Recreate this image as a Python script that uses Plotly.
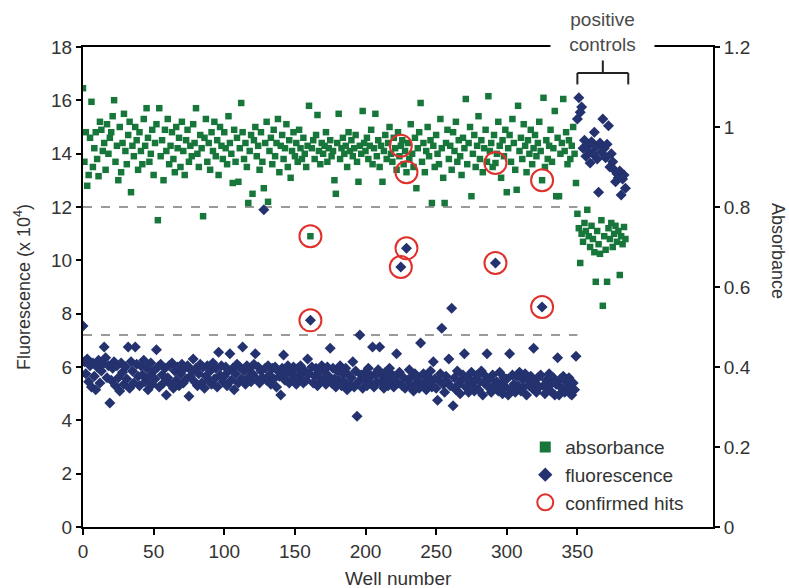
import plotly.graph_objects as go

# ---------------- data ----------------
# absorbance (A.U.) for screening wells 0..349
absorbance = [
    1.097, 0.913, 0.987, 0.853, 0.880, 0.973, 1.063, 0.900, 0.947, 0.987,
    0.920, 0.877, 1.013, 0.993, 0.940, 0.960, 0.893, 1.007, 0.933, 0.973,
    0.987, 1.027, 1.067, 0.913, 0.953, 0.867, 1.000, 0.887, 0.960, 1.033,
    0.940, 0.907, 0.980, 1.013, 0.837, 0.953, 0.927, 1.000, 0.967, 0.893,
    0.987, 0.940, 0.907, 1.020, 0.953, 1.047, 0.973, 0.913, 0.933, 0.993,
    0.880, 0.960, 1.007, 0.767, 1.047, 0.927, 0.967, 0.867, 0.993, 0.940,
    1.020, 0.907, 0.953, 0.987, 0.920, 0.887, 1.000, 0.947, 0.973, 0.900,
    1.013, 0.940, 0.880, 0.967, 0.993, 0.913, 0.953, 0.927, 1.007, 0.960,
    1.047, 0.933, 0.900, 0.980, 0.947, 0.777, 0.973, 1.020, 0.913, 0.960,
    0.893, 0.987, 0.940, 1.013, 0.927, 0.967, 0.880, 1.000, 0.953, 0.920,
    0.987, 0.947, 0.907, 1.027, 0.960, 0.933, 0.860, 0.993, 0.913, 0.973,
    0.863, 0.947, 1.060, 0.987, 0.920, 0.960, 0.900, 0.810, 0.940, 0.980,
    0.833, 0.967, 1.000, 0.927, 0.953, 0.893, 0.987, 0.913, 0.847, 0.960,
    1.013, 0.813, 0.940, 0.973, 0.907, 0.993, 0.927, 0.960, 1.020, 0.887,
    0.953, 0.980, 0.920, 0.947, 1.007, 0.900, 0.967, 0.873, 0.940, 0.987,
    0.927, 0.960, 0.913, 0.993, 0.947, 0.920, 0.973, 0.933, 0.900, 0.953,
    1.053, 0.727, 0.947, 0.967, 0.920, 0.980, 1.030, 0.940, 0.907, 0.960,
    0.933, 0.953, 0.987, 0.913, 0.947, 0.967, 0.927, 0.940, 0.867, 0.833,
    0.960, 1.033, 0.920, 0.947, 0.973, 0.933, 0.953, 0.900, 0.987, 0.940,
    0.967, 0.927, 0.947, 0.980, 0.913, 0.863, 0.953, 0.933, 1.040, 0.960,
    0.940, 0.973, 0.920, 0.953, 0.993, 0.907, 0.947, 1.033, 0.927, 0.967,
    0.900, 0.953, 0.863, 0.940, 0.980, 0.920, 0.960, 1.000, 0.933, 0.913,
    0.973, 0.947, 0.893, 0.987, 0.927, 0.953, 0.967, 0.907, 0.940, 0.887,
    0.960, 0.920, 1.007, 0.933, 0.900, 0.973, 0.847, 0.947, 0.987, 1.060,
    0.913, 0.960, 0.887, 0.940, 1.000, 0.927, 0.967, 0.810, 0.953, 0.900,
    0.980, 0.933, 0.907, 1.020, 0.947, 0.873, 0.810, 0.960, 0.993, 0.920,
    0.953, 0.893, 0.987, 0.940, 1.013, 0.913, 0.967, 0.927, 0.880, 0.973,
    0.947, 1.070, 0.907, 0.960, 1.000, 0.827, 0.933, 0.980, 0.900, 0.953,
    1.027, 0.920, 0.967, 0.887, 0.947, 0.993, 0.913, 1.077, 0.940, 0.960,
    0.900, 0.980, 0.910, 0.933, 1.013, 0.953, 0.873, 0.967, 0.927, 0.993,
    0.837, 0.947, 0.980, 0.913, 1.020, 0.960, 0.893, 0.843, 1.053, 0.940,
    0.973, 0.920, 1.007, 0.953, 0.887, 0.967, 0.933, 0.993, 0.907, 0.947,
    0.980, 0.927, 0.960, 1.013, 0.940, 0.867, 1.073, 0.900, 0.967, 0.920,
    0.953, 0.993, 0.913, 0.947, 1.040, 0.827, 0.973, 0.827, 0.933, 0.960,
    1.070, 0.940, 0.987, 0.907, 0.967, 0.920, 0.953, 1.000, 0.933, 0.860,
]

# fluorescence (x 10^4) for screening wells 0..349
fluorescence = [
    7.54, 6.20, 5.75, 6.30, 5.45, 6.05, 5.25, 6.15, 5.65, 5.15,
    6.00, 6.25, 5.40, 5.85, 6.10, 6.75, 6.35, 5.60, 6.05, 4.65,
    5.50, 5.95, 6.20, 5.30, 6.05, 5.60, 5.10, 6.15, 5.80, 5.35,
    6.00, 5.55, 6.75, 5.20, 6.20, 5.85, 5.40, 6.75, 6.10, 5.65,
    5.30, 6.05, 5.70, 6.25, 5.45, 5.95, 5.15, 5.65, 6.15, 5.35,
    5.85, 5.55, 6.65, 6.00, 5.25, 6.10, 5.70, 5.40, 5.95, 4.95,
    5.60, 6.05, 5.35, 6.15, 5.20, 5.85, 5.50, 6.00, 5.30, 5.75,
    6.10, 5.40, 5.95, 5.55, 6.05, 4.90, 5.65, 5.85, 6.30, 5.45,
    5.95, 5.30, 5.75, 6.10, 5.40, 6.00, 5.20, 5.65, 6.05, 5.50,
    5.85, 5.35, 6.15, 5.55, 5.95, 5.25, 6.55, 5.70, 6.05, 5.45,
    5.65, 6.00, 5.30, 5.85, 6.50, 5.50, 5.95, 5.15, 5.75, 6.10,
    5.40, 6.00, 5.55, 6.75, 5.85, 5.35, 6.05, 5.60, 5.95, 5.45,
    5.75, 6.10, 6.50, 5.55, 6.00, 5.40, 5.85, 5.60, 11.90, 5.95,
    5.50, 6.05, 5.70, 5.35, 5.95, 5.55, 6.00, 5.25, 5.85, 5.65,
    4.95, 5.95, 6.45, 5.50, 5.75, 6.05, 5.40, 5.85, 5.55, 6.00,
    5.65, 5.35, 5.95, 5.55, 6.05, 5.75, 5.40, 5.85, 5.50, 6.30,
    5.75, 7.75, 6.00, 5.40, 5.65, 5.95, 5.30, 5.85, 5.55, 6.05,
    5.50, 5.80, 5.35, 6.00, 5.65, 6.70, 5.40, 5.95, 5.55, 5.25,
    5.85, 5.50, 6.05, 5.30, 5.75, 5.45, 5.95, 5.15, 5.70, 5.35,
    5.60, 6.20, 5.25, 5.85, 4.15, 5.45, 7.20, 5.70, 5.20, 5.55,
    5.80, 5.30, 5.95, 5.40, 5.65, 6.75, 5.25, 5.75, 5.45, 5.90,
    6.75, 5.40, 5.65, 5.20, 5.80, 5.55, 5.30, 5.95, 5.45, 5.70,
    5.25, 5.65, 6.50, 5.40, 5.80, 9.75, 5.30, 5.60, 5.20, 10.45,
    5.50, 5.90, 5.25, 5.65, 5.10, 5.75, 5.40, 5.60, 5.20, 6.90,
    5.35, 5.75, 5.45, 5.15, 5.65, 5.40, 5.85, 5.25, 6.20, 5.55,
    5.20, 4.75, 5.50, 5.75, 7.45, 5.35, 5.05, 5.65, 5.45, 6.30,
    5.30, 8.20, 4.55, 5.60, 5.15, 5.85, 5.35, 5.00, 5.50, 5.70,
    6.50, 5.25, 5.60, 5.05, 5.45, 5.80, 5.30, 5.10, 5.55, 5.70,
    5.15, 5.45, 5.85, 4.95, 5.40, 5.65, 6.50, 5.25, 5.55, 5.05,
    5.70, 5.30, 9.90, 5.45, 5.10, 5.80, 5.35, 5.00, 5.60, 5.25,
    5.55, 4.95, 6.50, 5.15, 5.70, 5.35, 5.05, 5.65, 5.30, 5.80,
    5.10, 5.55, 5.25, 5.75, 4.95, 5.50, 5.30, 5.65, 5.20, 6.70,
    5.40, 5.05, 5.60, 5.25, 5.70, 8.25, 5.30, 5.00, 5.50, 5.20,
    5.75, 5.10, 5.40, 5.60, 4.95, 5.35, 6.35, 4.95, 5.55, 5.20,
    5.65, 5.05, 5.45, 5.25, 5.60, 5.00, 4.95, 5.40, 5.15, 6.40,
]

# positive control wells 350..384
control_absorbance = [
    0.783, 0.747, 0.660, 0.733, 0.713, 0.760, 0.740, 0.793, 0.727, 0.700,
    0.753, 0.720, 0.687, 0.613, 0.740, 0.707, 0.683, 0.767, 0.553, 0.727,
    0.693, 0.613, 0.747, 0.720, 0.760, 0.700, 0.733, 0.753, 0.713, 0.740,
    0.630, 0.727, 0.707, 0.750, 0.720,
]
control_fluorescence = [
    15.30, 16.10, 15.55, 15.75, 14.20, 14.50, 13.90, 14.30, 14.10, 13.65,
    14.45, 14.00, 14.80, 14.25, 13.80, 12.55, 14.40, 14.05, 15.30, 14.20,
    13.85, 14.35, 15.05, 13.50, 14.00, 13.70, 13.40, 12.95, 13.25, 13.10,
    13.35, 12.45, 13.05, 13.20, 12.70,
]

# confirmed hit wells
hit_wells = [161, 225, 229, 292, 325]

# thresholds
absorbance_threshold = 0.8
fluorescence_threshold = 7.2

x_ticks = [0, 50, 100, 150, 200, 250, 300, 350]
y_ticks = [0, 2, 4, 6, 8, 10, 12, 14, 16, 18]
y2_ticks = [0, 0.2, 0.4, 0.6, 0.8, 1.0, 1.2]

# ---------------- derived ----------------
n_screen = len(absorbance)
screen_wells = list(range(n_screen))
control_wells = list(range(n_screen, n_screen + len(control_absorbance)))
all_wells = screen_wells + control_wells
all_abs = absorbance + control_absorbance
all_fluo = fluorescence + control_fluorescence

GREEN = "#17773b"
NAVY = "#24336f"
RED = "#e0302c"
TXT = "#333333"
FONT = "Liberation Sans, Arial, sans-serif"
FS = 19

fig = go.Figure()

fig.add_trace(go.Scatter(
    x=all_wells, y=all_abs, yaxis="y2", mode="markers",
    marker=dict(symbol="square", size=6.5, color=GREEN, line=dict(width=0)),
    showlegend=False, hoverinfo="skip"))

fig.add_trace(go.Scatter(
    x=all_wells, y=all_fluo, mode="markers",
    marker=dict(symbol="diamond", size=8.5, color=NAVY, line=dict(width=0)),
    showlegend=False, hoverinfo="skip"))

fig.add_trace(go.Scatter(
    x=hit_wells, y=[absorbance[w] for w in hit_wells], yaxis="y2", mode="markers",
    marker=dict(symbol="circle-open", size=22, color=RED, line=dict(width=2, color=RED)),
    showlegend=False, hoverinfo="skip"))
fig.add_trace(go.Scatter(
    x=hit_wells, y=[fluorescence[w] for w in hit_wells], mode="markers",
    marker=dict(symbol="circle-open", size=22, color=RED, line=dict(width=2, color=RED)),
    showlegend=False, hoverinfo="skip"))

# legend-only entries
fig.add_trace(go.Scatter(x=[None], y=[None], mode="markers", name="absorbance",
                         marker=dict(symbol="square", size=11, color=GREEN)))
fig.add_trace(go.Scatter(x=[None], y=[None], mode="markers", name="fluorescence",
                         marker=dict(symbol="diamond", size=11, color=NAVY)))
fig.add_trace(go.Scatter(x=[None], y=[None], mode="markers", name="confirmed hits",
                         marker=dict(symbol="circle-open", size=21, color=RED,
                                     line=dict(width=2, color=RED))))

shapes = [
    dict(type="line", xref="x", yref="y2", x0=0, x1=n_screen,
         y0=absorbance_threshold, y1=absorbance_threshold,
         line=dict(color="#9a9a9a", width=2, dash="dash"), layer="below"),
    dict(type="line", xref="x", yref="y", x0=0, x1=n_screen,
         y0=fluorescence_threshold, y1=fluorescence_threshold,
         line=dict(color="#9a9a9a", width=2, dash="dash"), layer="below"),
]
# bracket over positive controls
bx0 = control_wells[0]
bx1 = control_wells[-1] + 2
bxm = (bx0 + bx1) / 2
for seg in [(bx0, 0.946, bx1, 0.946), (bx0, 0.946, bx0, 0.922),
            (bx1, 0.946, bx1, 0.922), (bxm, 0.946, bxm, 0.972)]:
    shapes.append(dict(type="line", xref="x", yref="paper",
                       x0=seg[0], y0=seg[1], x1=seg[2], y1=seg[3],
                       line=dict(color="#222", width=2)))

annotations = [
    dict(text="positive<br>controls", xref="x", yref="paper", x=bxm, y=1.032,
         showarrow=False, xanchor="center", yanchor="middle", width=101,
         bgcolor="white", font=dict(size=FS, color="#4a4a4a", family=FONT)),
    dict(text="Fluorescence (x 10<sup>4</sup>)", xref="paper", yref="paper",
         x=0, y=0.5, xshift=-61, textangle=-90, showarrow=False,
         xanchor="center", yanchor="middle", font=dict(size=FS - 1, color=TXT, family=FONT)),
    dict(text="Absorbance", xref="paper", yref="paper", x=1, y=0.575,
         xshift=65, textangle=90, showarrow=False,
         xanchor="center", yanchor="middle", font=dict(size=FS - 1, color=TXT, family=FONT)),
    dict(text="Well number", xref="paper", yref="paper", x=0.5, y=0,
         yshift=-51, showarrow=False, xanchor="center", yanchor="middle",
         font=dict(size=FS, color=TXT, family=FONT)),
]

fig.update_layout(
    width=789, height=588,
    margin=dict(l=83, r=76, t=47, b=61),
    paper_bgcolor="white", plot_bgcolor="white",
    font=dict(family=FONT, size=FS, color=TXT),
    shapes=shapes, annotations=annotations,
    xaxis=dict(range=[0, 446], tickvals=x_ticks, showgrid=False, zeroline=False,
               showline=True, linecolor="black", linewidth=2, mirror=True,
               ticks="outside", ticklen=6, tickwidth=1.5, tickcolor="black",
               tickfont=dict(size=FS, color=TXT)),
    yaxis=dict(range=[0, 18], tickvals=y_ticks, showgrid=False, zeroline=False,
               showline=True, linecolor="black", linewidth=2,
               ticks="outside", ticklen=5, tickwidth=1.5, tickcolor="black",
               tickfont=dict(size=FS, color=TXT)),
    yaxis2=dict(range=[0, 1.2], tickvals=y2_ticks, overlaying="y", side="right",
                showgrid=False, zeroline=False, showline=True, linecolor="black",
                linewidth=2, ticks="outside", ticklen=5, tickwidth=1.5,
                tickcolor="black", tickfont=dict(size=FS, color=TXT)),
    legend=dict(x=0.702, y=0.206, xanchor="left", yanchor="top",
                bgcolor="rgba(0,0,0,0)", font=dict(size=FS, color=TXT, family=FONT),
                itemsizing="trace", tracegroupgap=0),
)

fig.write_html("out.html")
